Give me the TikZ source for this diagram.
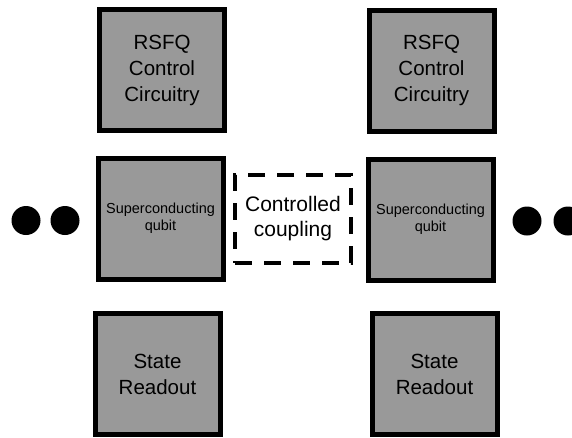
\documentclass[tikz,border=0pt]{standalone}
\usepackage{fontspec}
\setmainfont{Liberation Sans}
\begin{document}
\begin{tikzpicture}[x=1pt,y=-1pt,
  blockbox/.style={draw=black,line width=5pt,fill=black!40,inner sep=0pt,
    minimum width=125pt,minimum height=121pt,align=center,
    font=\fontsize{20.5}{26}\selectfont},
  qubitbox/.style={blockbox,font=\fontsize{14.5}{17}\selectfont},
  couplingbox/.style={draw=black,line width=4pt,dash pattern=on 17pt off 12pt,
    inner sep=0pt,minimum width=116pt,minimum height=88pt,align=center,
    font=\fontsize{21}{25}\selectfont},
  bigdot/.style={fill=black,circle,inner sep=0pt,minimum size=29pt}]
\useasboundingbox (0,0) rectangle (572,437);
\node[blockbox] (rsfqL) at (162,70) {RSFQ\\Control\\Circuitry};
\node[blockbox] (rsfqR) at (431.5,70.5) {RSFQ\\Control\\Circuitry};
\node[qubitbox] (qubitL) at (160.5,218.5) {Superconducting\\qubit};
\node[qubitbox] (qubitR) at (430.5,219.5) {Superconducting\\qubit};
\node[blockbox] (readL) at (157.5,374) {State\\Readout};
\node[blockbox] (readR) at (434.5,374) {State\\Readout};
\node[couplingbox] (coup) at (293,219) {Controlled\\coupling};
\node[bigdot] (dL1) at (26,220.5) {};
\node[bigdot] (dL2) at (65,220.5) {};
\node[bigdot] (dR1) at (527,221) {};
\node[bigdot] (dR2) at (568,221) {};
\end{tikzpicture}
\end{document}
